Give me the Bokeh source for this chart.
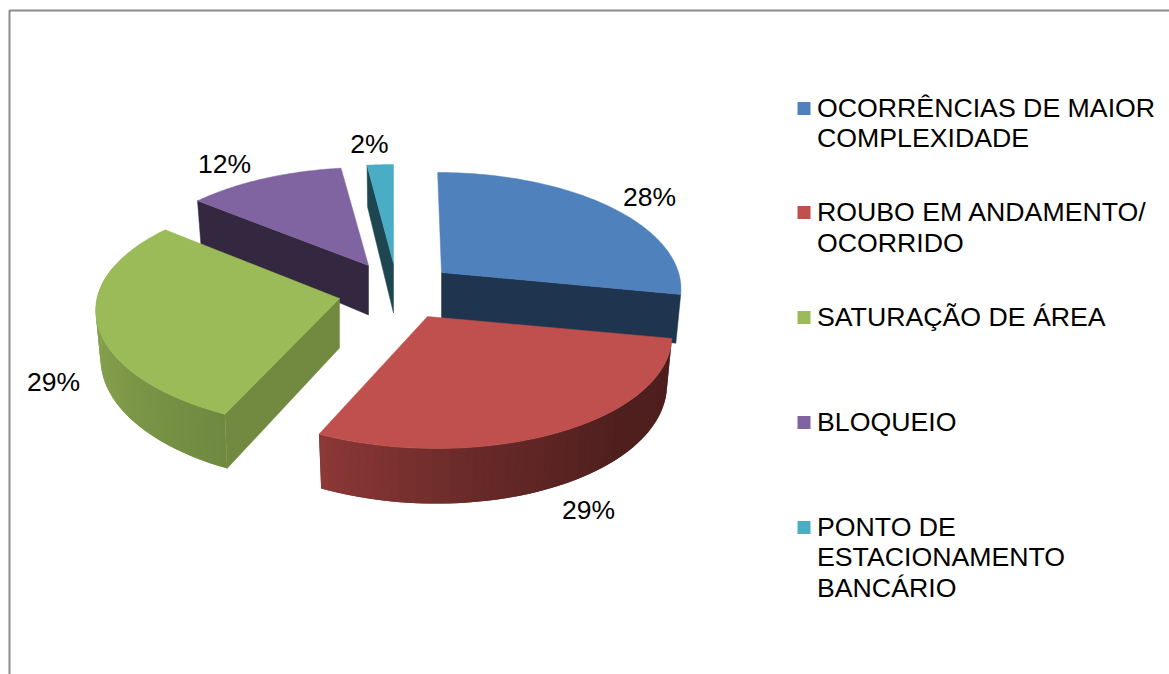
import math
from bokeh.plotting import figure
from bokeh.models import Range1d
from bokeh.core.properties import value
from bokeh.embed import file_html
from bokeh.resources import INLINE

# Data
categories = ["OCORRÊNCIAS DE MAIOR\nCOMPLEXIDADE", "ROUBO EM ANDAMENTO/\nOCORRIDO", "SATURAÇÃO DE ÁREA",
              "BLOQUEIO", "PONTO DE\nESTACIONAMENTO\nBANCÁRIO"]
shares = [28, 29, 29, 12, 2]
colors = ["#4F81BD", "#C0504D", "#9BBB59", "#8064A2", "#4BACC6"]
face_colors = ["#1F344E", "#4F1F1E", "#728A40", "#33283F", "#1E4650"]

# Layout (page pixels)
apex = [(441, 272), (427, 316), (339, 298), (368, 265), (393, 263)]
rim_center = [(438, 272), (428, 316), (337, 296), (367, 267), (393, 264)]
skew = [1, 7, 4, 0, 0]
R, RY, K, DEPTH, SHRINK = 240, 113.8, 0.138, 47.5, 0.98
label_pos = [(649, 196), (588, 509), (53, 381), (224, 163), (369, 143)]
legend_y = [(107, 137), (211, 242), (316,), (421,), (526, 556, 587)]

p = figure(width=1169, height=674, output_backend="svg", toolbar_location=None,
           x_range=Range1d(0, 1169), y_range=Range1d(674, 0), min_border=0)
p.axis.visible = False
p.grid.visible = False
p.outline_line_color = None
p.background_fill_color = "white"

# Frame
p.line([9, 9, 1169], [674, 10, 10], line_color="#8C8C8C", line_width=2)

total = sum(shares)
edges = [0]
for s in shares:
    edges.append(edges[-1] + s / total * 2 * math.pi)


def top(i, t):
    u, v = math.sin(t), math.cos(t)
    s = 1 / (1 + K * v)
    return rim_center[i][0] + (R * u - skew[i] * v) * s, rim_center[i][1] - RY * v * s


def bottom(i, t):
    x, y = top(i, t)
    s = 1 / (1 + K * math.cos(t))
    ax = rim_center[i][0]
    return ax + (x - ax) * SHRINK, y + DEPTH * s


def lerp(a, b, f):
    return "#%02x%02x%02x" % tuple(round(a[j] + (b[j] - a[j]) * f) for j in range(3))


def arc(i, t0, t1, n=80):
    return [t0 + (t1 - t0) * k / n for k in range(n + 1)]


def draw_wall(i, t0, t1, stops, n=60):
    ts = arc(i, t0, t1, n)
    for k in range(n):
        a, b = ts[k], ts[min(k + 2, n)]
        f = k / (n - 1)
        pos = f * (len(stops) - 1)
        j = min(int(pos), len(stops) - 2)
        col = lerp(stops[j], stops[j + 1], pos - j)
        q = [top(i, a), top(i, b), bottom(i, b), bottom(i, a)]
        p.patch([c[0] for c in q], [c[1] for c in q], fill_color=col, line_color=None)


def draw_face(i, t):
    a = apex[i]
    q = [a, top(i, t), bottom(i, t), (a[0], a[1] + DEPTH + 2)]
    p.patch([c[0] for c in q], [c[1] for c in q], fill_color=face_colors[i], line_color=face_colors[i], line_width=0.5)


def draw_top(i):
    q = [apex[i]] + [top(i, t) for t in arc(i, edges[i], edges[i + 1])]
    p.patch([c[0] for c in q], [c[1] for c in q], fill_color=colors[i], line_color=colors[i], line_width=0.5)


# Back to front: cyan, purple, blue, green, red
draw_face(4, edges[4]); draw_top(4)
draw_face(3, edges[3]); draw_top(3)
draw_face(0, edges[1]); draw_top(0)
draw_wall(2, edges[2], math.radians(285), [(0x6F, 0x8A, 0x40), (0x82, 0x9C, 0x4B), (0x8A, 0xA6, 0x51)])
draw_face(2, edges[2]); draw_top(2)
draw_wall(1, edges[1], edges[2], [(0x4C, 0x1E, 0x1D), (0x4F, 0x1F, 0x1E), (0x66, 0x29, 0x28), (0x8B, 0x38, 0x36)])
draw_top(1)

# Percentage labels
for (x, y), s in zip(label_pos, shares):
    p.text([x], [y], text=[f"{s}%"], text_font=value("Liberation Sans"), text_font_size="26.5px",
           text_color="#000000", text_align="center", text_baseline="middle")

# Legend
for name, col, ys in zip(categories, colors, legend_y):
    p.scatter([803.5], [ys[0] + 1], marker="square", size=13, fill_color=col, line_color=col, line_width=0)
    for line, y in zip(name.split("\n"), ys):
        p.text([816.5], [y], text=[line], text_font=value("Liberation Sans"), text_font_size="26.7px",
               text_color="#000000", text_align="left", text_baseline="middle")

open("out.html", "w").write(file_html(p, INLINE))
